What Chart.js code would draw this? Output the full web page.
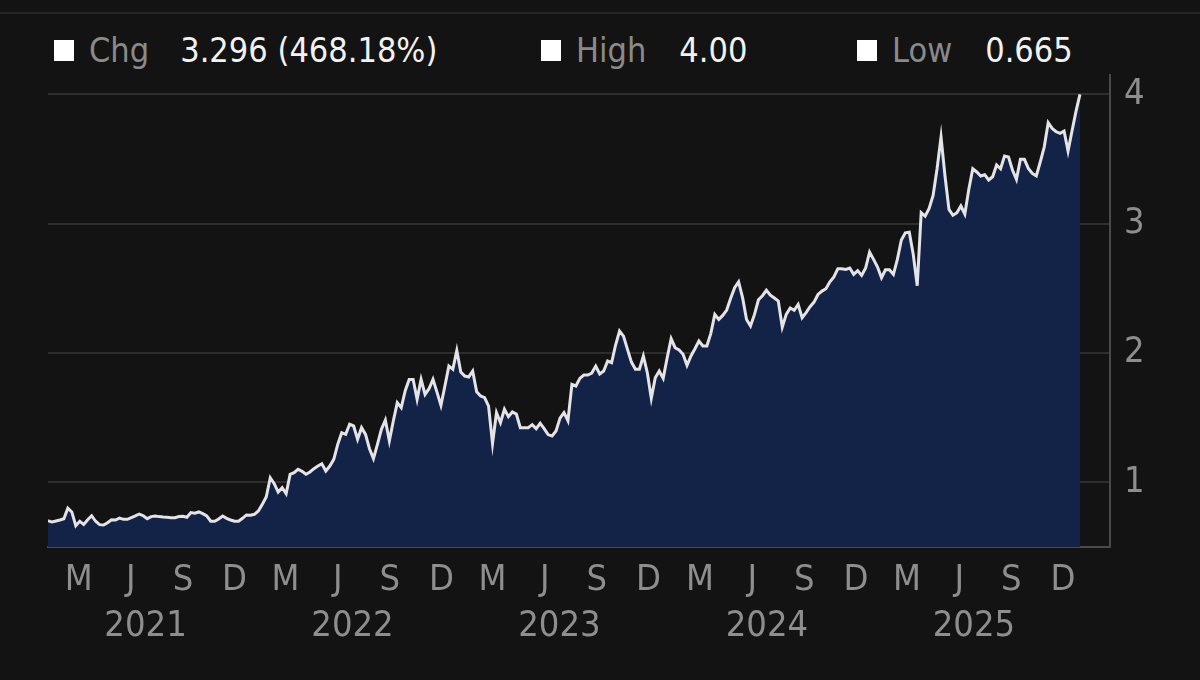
<!DOCTYPE html>
<html>
<head>
<meta charset="utf-8">
<title>Price chart</title>
<script src="https://cdn.jsdelivr.net/npm/chart.js@4.4.1/dist/chart.umd.min.js"></script>
<style>
  html, body { margin: 0; padding: 0; background: #131313; }
  #wrap { position: relative; width: 1200px; height: 680px; overflow: hidden;
          font-family: 'DejaVu Sans Condensed', 'DejaVu Sans', sans-serif; }
  #topline { position: absolute; left: 0; top: 12px; width: 1200px; height: 2px; background: #262626; }
  .sq { position: absolute; top: 40px; width: 20px; height: 21px; background: #ffffff; }
  .txt { position: absolute; top: 33px; height: 34px; line-height: 34px; font-size: 34px; white-space: nowrap; }
  .lab { color: #8a8a8a; }
  .val { color: #f2f2f2; }
  canvas { position: absolute; left: 0; top: 0; }
</style>
</head>
<body>
<div id="wrap">
  <div id="topline"></div>
  <div id="legend"></div>
  <canvas id="myChart" width="1200" height="680"></canvas>
</div>
<script>
// weekly closes (first week starts 2021-01-06)
var close2021 = [0.704, 0.693, 0.701, 0.709, 0.719, 0.800, 0.771, 0.665, 0.699, 0.675,
  0.711, 0.742, 0.699, 0.673, 0.670, 0.688, 0.711, 0.709, 0.724, 0.714,
  0.714, 0.727, 0.740, 0.755, 0.742, 0.719, 0.735, 0.740, 0.735, 0.732,
  0.730, 0.727, 0.727, 0.735, 0.737, 0.730, 0.766, 0.761, 0.771, 0.758,
  0.740, 0.699, 0.699, 0.717, 0.740, 0.722, 0.709, 0.699, 0.699, 0.722,
  0.748, 0.745];
var close2022 = [0.753, 0.779, 0.830, 0.889, 1.036, 0.990, 0.925, 0.959, 0.912, 1.062,
  1.075, 1.101, 1.085, 1.062, 1.080, 1.106, 1.126, 1.144, 1.088, 1.126,
  1.178, 1.294, 1.384, 1.371, 1.449, 1.436, 1.333, 1.423, 1.371, 1.260,
  1.183, 1.294, 1.410, 1.482, 1.320, 1.474, 1.616, 1.577, 1.709, 1.796,
  1.796, 1.642, 1.796, 1.680, 1.724, 1.796, 1.698, 1.595, 1.745, 1.900,
  1.874, 2.020];
var close2023 = [1.853, 1.822, 1.815, 1.861, 1.701, 1.668, 1.655, 1.590, 1.300, 1.539,
  1.461, 1.565, 1.508, 1.544, 1.528, 1.423, 1.423, 1.423, 1.446, 1.415,
  1.456, 1.415, 1.369, 1.358, 1.397, 1.497, 1.539, 1.477, 1.758, 1.745,
  1.804, 1.830, 1.830, 1.845, 1.899, 1.838, 1.861, 1.938, 1.925, 2.062,
  2.170, 2.131, 2.028, 1.930, 1.874, 1.874, 1.977, 1.848, 1.650, 1.809,
  1.861, 1.804];
var close2024 = [1.964, 2.111, 2.041, 2.023, 1.990, 1.905, 1.977, 2.033, 2.093, 2.054,
  2.054, 2.152, 2.299, 2.260, 2.291, 2.332, 2.423, 2.505, 2.550, 2.428,
  2.260, 2.209, 2.299, 2.412, 2.443, 2.485, 2.448, 2.425, 2.402, 2.200,
  2.299, 2.348, 2.330, 2.376, 2.273, 2.312, 2.358, 2.394, 2.453, 2.479,
  2.497, 2.551, 2.588, 2.652, 2.652, 2.647, 2.657, 2.608, 2.637, 2.600,
  2.657, 2.781];
var close2025 = [2.724, 2.665, 2.582, 2.644, 2.644, 2.608, 2.724, 2.874, 2.930, 2.935,
  2.763, 2.520, 3.085, 3.059, 3.118, 3.219, 3.425, 3.670, 3.369, 3.111,
  3.065, 3.085, 3.137, 3.075, 3.266, 3.425, 3.400, 3.369, 3.379, 3.338,
  3.363, 3.454, 3.425, 3.523, 3.516, 3.415, 3.343, 3.498, 3.498, 3.428,
  3.389, 3.369, 3.477, 3.593, 3.781, 3.737, 3.711, 3.699, 3.717, 3.562,
  3.717, 3.869, 4.000];

var years = [2021, 2022, 2023, 2024, 2025];
var monthLetters = ['M', 'J', 'S', 'D'];
var yTicks = [1, 2, 3, 4];

var legendNames = ['Chg', 'High', 'Low'];
var legendValues = ['3.296 (468.18%)', '4.00', '0.665'];

// legend (html text over the canvas)
var legendX = [54, 541, 857];
var legend = document.getElementById('legend');
legendNames.forEach(function (name, i) {
  var x = legendX[i];
  legend.insertAdjacentHTML('beforeend',
    '<div class="sq" style="left:' + x + 'px"></div>' +
    '<div class="txt" style="left:' + (x + 35) + 'px">' +
    '<span class="lab">' + name + '</span>' +
    '<span class="val" style="margin-left:' + (i === 0 ? 31 : 33) + 'px">' + legendValues[i] + '</span></div>');
});

var DAY = 86400000;
var firstWeek = Date.UTC(2021, 0, 6);
var closes = close2021.concat(close2022, close2023, close2024, close2025);
var points = closes.map(function (v, i) {
  return { x: firstWeek + i * 7 * DAY, y: v };
});

var quarterTicks = [];
years.forEach(function (y) {
  [2, 5, 8, 11].forEach(function (m) { quarterTicks.push(Date.UTC(y, m, 1)); });
});
var yearTicks = years.map(function (y) { return Date.UTC(y, 5, 27); });

var tickFont = { family: "'DejaVu Sans Condensed', 'DejaVu Sans', sans-serif", size: 36 };
var tickColor = '#8e8e8e';

var ctx = document.getElementById('myChart').getContext('2d');
var myChart = new Chart(ctx, {
  type: 'line',
  data: {
    datasets: [{
      data: points,
      borderColor: '#e4e4e8',
      borderWidth: 3,
      backgroundColor: '#132348',
      fill: 'start',
      pointRadius: 0,
      tension: 0
    }]
  },
  options: {
    responsive: false,
    animation: false,
    layout: { padding: { left: 48, right: 0, top: 75, bottom: 35 } },
    plugins: { legend: { display: false }, tooltip: { enabled: false } },
    scales: {
      x: {
        type: 'linear',
        position: 'bottom',
        min: firstWeek,
        max: Date.UTC(2026, 1, 22),
        grid: { display: false, drawTicks: false },
        border: { color: '#4a4a4a', width: 2 },
        afterBuildTicks: function (scale) {
          scale.ticks = quarterTicks.map(function (v) { return { value: v }; });
        },
        afterFit: function (scale) { scale.height = 54; },
        ticks: {
          autoSkip: false, maxRotation: 0, padding: 12,
          color: tickColor, font: tickFont,
          callback: function (v, i) { return monthLetters[i % 4]; }
        }
      },
      yearAxis: {
        type: 'linear',
        position: 'bottom',
        min: firstWeek,
        max: Date.UTC(2026, 1, 22),
        grid: { display: false, drawTicks: false },
        border: { display: false },
        afterBuildTicks: function (scale) {
          scale.ticks = yearTicks.map(function (v) { return { value: v }; });
        },
        afterFit: function (scale) { scale.height = 44; },
        ticks: {
          autoSkip: false, maxRotation: 0, padding: 4,
          color: tickColor, font: tickFont,
          callback: function (v, i) { return String(years[i]); }
        }
      },
      y: {
        position: 'right',
        min: 0.5,
        max: 4.15,
        grid: { color: '#2e2e2e', lineWidth: 2, drawTicks: false },
        border: { color: '#4a4a4a', width: 2 },
        afterBuildTicks: function (scale) {
          scale.ticks = yTicks.map(function (v) { return { value: v }; });
        },
        afterFit: function (scale) { scale.width = 90; },
        ticks: {
          padding: 14, color: tickColor, font: tickFont,
          callback: function (v) { return String(v); }
        }
      }
    }
  }
});
</script>
</body>
</html>
